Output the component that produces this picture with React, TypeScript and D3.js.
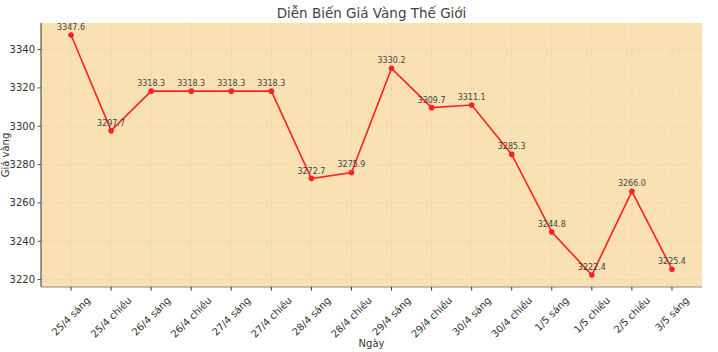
import React from "react";
import * as d3 from "d3";

const categories = ["25/4 sáng","25/4 chiều","26/4 sáng","26/4 chiều","27/4 sáng","27/4 chiều","28/4 sáng","28/4 chiều","29/4 sáng","29/4 chiều","30/4 sáng","30/4 chiều","1/5 sáng","1/5 chiều","2/5 chiều","3/5 sáng"];
const prices = [3347.6,3297.7,3318.3,3318.3,3318.3,3318.3,3272.7,3275.9,3330.2,3309.7,3311.1,3285.3,3244.8,3222.4,3266.0,3225.4];
const yTicks = [3220,3240,3260,3280,3300,3320,3340];

const W = 718, H = 352;
const L = 41, R = 702, T = 23, B = 287;
const FONT = "DejaVu Sans, sans-serif";

let ctx: CanvasRenderingContext2D | null = null;
function measure(s: string, size: number): number {
  if (typeof document !== "undefined") {
    if (!ctx) ctx = document.createElement("canvas").getContext("2d");
    if (ctx) {
      ctx.font = `${size}px "DejaVu Sans"`;
      return ctx.measureText(s).width;
    }
  }
  return s.length * size * 0.6;
}

export default function App() {
  const x = d3.scaleLinear().domain([-0.75, categories.length - 1 + 0.75]).range([L, R]);
  const minV = d3.min(prices)!, maxV = d3.max(prices)!;
  const pad = (maxV - minV) * 0.05;
  const y = d3.scaleLinear().domain([minV - pad, maxV + pad]).range([B, T]);
  const line = d3.line<number>().x((_, i) => x(i)).y(d => y(d));
  const s45 = Math.SQRT1_2;

  return (
    <svg width={W} height={H} style={{ position: "absolute", left: 0, top: 0 }} fontFamily={FONT}>
      <rect x={0} y={0} width={W} height={H} fill="#fff" />
      <rect x={L} y={T} width={R - L} height={B - T} fill="#f9e1b3" />
      {categories.map((c, i) => (
        <line key={"gx" + i} x1={x(i)} x2={x(i)} y1={T} y2={B} stroke="#ddd2bd" strokeWidth={0.8} strokeDasharray="3,2" />
      ))}
      {yTicks.map(t => (
        <line key={"gy" + t} x1={L} x2={R} y1={y(t)} y2={y(t)} stroke="#ddd2bd" strokeWidth={0.8} strokeDasharray="3,2" />
      ))}
      <line x1={L} x2={L} y1={T} y2={B} stroke="#333" strokeWidth={1} />
      <line x1={L} x2={R} y1={B} y2={B} stroke="#888" strokeWidth={1} />
      {yTicks.map(t => (
        <g key={"yt" + t}>
          <line x1={L - 3.5} x2={L} y1={y(t)} y2={y(t)} stroke="#555" />
          <text x={L - 6} y={y(t)} dy="0.35em" textAnchor="end" fontSize={10} fill="#333">{t}</text>
        </g>
      ))}
      {categories.map((c, i) => {
        const w = measure(c, 10);
        const bh = (w + 11.6) * s45;
        const cy = B + 7.5 + bh / 2;
        return (
          <g key={"xt" + i}>
            <line x1={x(i)} x2={x(i)} y1={B} y2={B + 3.5} stroke="#333" />
            <text transform={`translate(${x(i)},${cy}) rotate(-45)`} textAnchor="middle" dy="0.35em" fontSize={10} fill="#333">{c}</text>
          </g>
        );
      })}
      <path d={line(prices)!} fill="none" stroke="#ff2020" strokeWidth={1.6} />
      {prices.map((p, i) => (
        <circle key={"pt" + i} cx={x(i)} cy={y(p)} r={2.8} fill="#ff2020" />
      ))}
      {prices.map((p, i) => (
        <text key={"lb" + i} x={x(i)} y={y(p) - 5} textAnchor="middle" fontSize={8} fill="#444">{p.toFixed(1)}</text>
      ))}
      <text x={(L + R) / 2} y={18} textAnchor="middle" fontSize={13.5} fill="#444">Diễn Biến Giá Vàng Thế Giới</text>
      <text x={(L + R) / 2} y={347} textAnchor="middle" fontSize={10} fill="#333">Ngày</text>
      <text transform={`translate(9,${(T + B) / 2}) rotate(-90)`} textAnchor="middle" fontSize={10} fill="#333">Giá vàng</text>
    </svg>
  );
}
